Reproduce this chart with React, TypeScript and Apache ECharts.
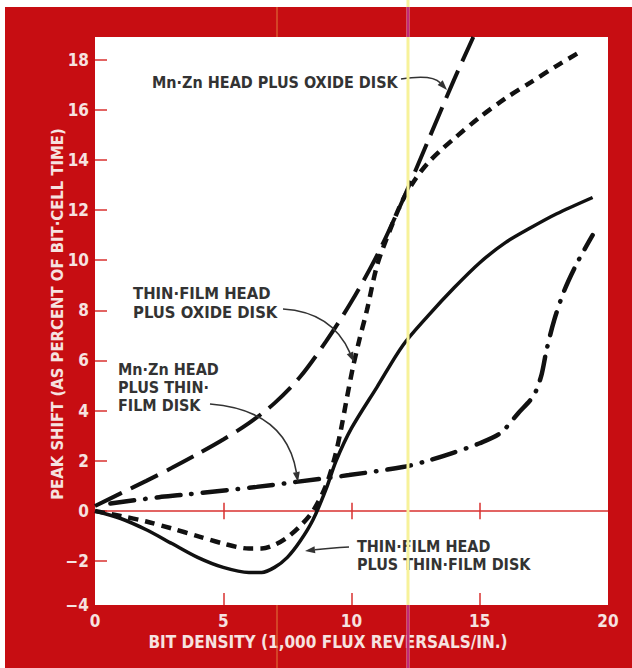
import { useEffect, useRef } from 'react';
import * as echarts from 'echarts';

// ---- axis data ----
const xTickLabels = [0, 5, 10, 15, 20];
const xInnerTicks = [5, 10, 15];
const yTickValues = [-2, 0, 2, 4, 6, 8, 10, 12, 14, 16, 18];
const Y_MIN = -3.75;
const Y_MAX = 18.9;

// ---- series data ----
// Mn-Zn head plus oxide disk (long dash)
const mnZnOxideX = [0, 1, 2, 3, 4, 5, 6, 7, 8, 9, 10, 11, 12, 13, 14, 14.75];
const mnZnOxideY = [0.2, 0.7, 1.2, 1.72, 2.27, 2.85, 3.5, 4.3, 5.35, 6.75, 8.35, 10.2, 12.4, 14.8, 17.2, 18.9];

// Thin-film head plus oxide disk (short dash)
const tfOxideX = [0, 1, 2, 3, 4, 5, 6, 6.5, 7, 7.5, 8, 8.5, 9, 9.35, 9.6, 9.8, 10.05, 10.3, 10.6, 11, 11.5, 12, 12.5, 13, 13.5, 14, 15, 16, 17, 18, 18.9];
const tfOxideY = [0, -0.2, -0.42, -0.7, -1.0, -1.3, -1.5, -1.5, -1.35, -1.05, -0.6, 0, 1.0, 2.15, 3.3, 4.4, 5.7, 6.8, 8.0, 9.8, 11.2, 12.4, 13.25, 13.9, 14.4, 14.85, 15.7, 16.45, 17.1, 17.75, 18.3];

// Thin-film head plus thin-film disk (solid)
const tfTfX = [0, 1, 2, 3, 4, 5, 6, 6.5, 7, 7.5, 8, 8.5, 9, 9.4, 10, 11, 12, 13, 14, 15, 16, 17, 18, 19.4];
const tfTfY = [0, -0.3, -0.75, -1.3, -1.85, -2.25, -2.45, -2.45, -2.25, -1.85, -1.2, -0.35, 0.85, 2.0, 3.3, 4.95, 6.6, 7.8, 8.9, 9.9, 10.7, 11.3, 11.85, 12.5];

// Mn-Zn head plus thin-film disk (dash-dot)
const mnZnTfX = [0.6, 2.5, 3.4, 6.3, 7.85, 9.9, 12, 12.8, 13.9, 15, 15.8, 16.5, 17.1, 17.4, 17.6, 17.9, 18.3, 18.8, 19.4];
const mnZnTfY = [0.3, 0.55, 0.64, 0.96, 1.16, 1.43, 1.75, 1.95, 2.3, 2.7, 3.1, 3.9, 4.6, 5.4, 6.4, 7.6, 8.8, 9.9, 11.0];

const zip = (xs: number[], ys: number[]) => xs.map((x, i) => [x, ys[i]]);

const FONT = '"Liberation Sans Narrow", "DejaVu Sans Condensed", "Roboto", sans-serif';
const RED = '#c70d12';
const AXIS_RED = '#d8302f';
const LIGHT = '#f6e2e0';
const INK = '#111111';
const NOTE = '#333333';

function arrow(x1: number, y1: number, cx: number, cy: number, x2: number, y2: number) {
  const dx = x2 - cx;
  const dy = y2 - cy;
  const len = Math.sqrt(dx * dx + dy * dy) || 1;
  const ux = dx / len;
  const uy = dy / len;
  const hl = 10;
  const hw = 3.5;
  const bx = x2 - ux * hl;
  const by = y2 - uy * hl;
  return [
    {
      type: 'bezierCurve',
      shape: { x1, y1, x2: bx, y2: by, cpx1: cx, cpy1: cy },
      style: { stroke: NOTE, lineWidth: 1.6, fill: 'none' },
      z: 20,
    },
    {
      type: 'polygon',
      shape: {
        points: [
          [x2, y2],
          [bx - uy * hw, by + ux * hw],
          [bx + uy * hw, by - ux * hw],
        ],
      },
      style: { fill: NOTE },
      z: 20,
    },
  ];
}

function note(x: number, y: number, lines: string[], lh = 18, size = 16) {
  return lines.map((t, i) => ({
    type: 'text',
    x,
    y: y + i * lh,
    z: 20,
    style: {
      text: t,
      fill: NOTE,
      font: `bold ${size}px ${FONT}`,
      align: 'left',
      verticalAlign: 'middle',
    },
  }));
}

export default function App() {
  const ref = useRef<HTMLDivElement>(null);

  useEffect(() => {
    const chart = echarts.init(ref.current!, null, { renderer: 'svg' });
    const lineBase = {
      type: 'line',
      showSymbol: false,
      symbol: 'none',
      smooth: 0.3,
      silent: true,
    };

    const option: any = {
      animation: false,
      backgroundColor: RED,
      grid: {
        left: 95,
        right: 24,
        top: 37,
        bottom: 63,
        show: true,
        backgroundColor: '#ffffff',
        borderWidth: 0,
      },
      xAxis: {
        type: 'value',
        min: 0,
        max: 20,
        interval: 5,
        axisLine: { show: false, onZero: false },
        splitLine: { show: false },
        axisTick: {
          show: true,
          inside: true,
          length: 12,
          customValues: xInnerTicks,
          lineStyle: { color: AXIS_RED, width: 1.5 },
        },
        axisLabel: {
          customValues: xTickLabels,
          color: LIGHT,
          fontFamily: FONT,
          fontWeight: 'bold',
          fontSize: 17,
          margin: 7,
        },
      },
      yAxis: {
        type: 'value',
        min: Y_MIN,
        max: Y_MAX,
        axisLine: { show: false },
        splitLine: { show: false },
        axisTick: {
          show: true,
          inside: true,
          length: 12,
          customValues: yTickValues,
          lineStyle: { color: AXIS_RED, width: 1.5 },
        },
        axisLabel: {
          customValues: [Y_MIN, ...yTickValues],
          color: LIGHT,
          fontFamily: FONT,
          fontWeight: 'bold',
          fontSize: 17,
          margin: 6,
          formatter: (v: number) => {
            const n = v < -3 ? -4 : Math.round(v);
            return n < 0 ? '\u2212' + Math.abs(n) : String(n);
          },
        },
      },
      series: [
        {
          ...lineBase,
          name: 'Mn-Zn head plus oxide disk',
          data: zip(mnZnOxideX, mnZnOxideY),
          lineStyle: { color: INK, width: 4, type: [30, 10], cap: 'butt' },
          z: 5,
          markLine: {
            silent: true,
            symbol: 'none',
            label: { show: false },
            animation: false,
            lineStyle: { color: AXIS_RED, width: 1.5, type: 'solid' },
            data: [
              [{ coord: [0, 0] }, { coord: [20, 0] }],
              ...xInnerTicks.map((t) => [{ coord: [t, -0.33] }, { coord: [t, 0.33] }]),
            ],
            z: 1,
          },
        },
        {
          ...lineBase,
          name: 'Thin-film head plus oxide disk',
          data: zip(tfOxideX, tfOxideY),
          lineStyle: { color: INK, width: 4.5, type: [10, 7], cap: 'butt' },
          z: 5,
        },
        {
          ...lineBase,
          name: 'Thin-film head plus thin-film disk',
          data: zip(tfTfX, tfTfY),
          lineStyle: { color: INK, width: 3.5, type: 'solid' },
          z: 5,
        },
        {
          ...lineBase,
          name: 'Mn-Zn head plus thin-film disk',
          data: zip(mnZnTfX, mnZnTfY),
          lineStyle: { color: INK, width: 4.5, type: [24, 11, 0.5, 11], cap: 'round' },
          z: 5,
        },
      ],
      graphic: [
        // white page margin above/left of the red frame
        { type: 'rect', shape: { x: 0, y: 0, width: 632, height: 7 }, style: { fill: '#ffffff' }, z: 0, silent: true },
        { type: 'rect', shape: { x: 0, y: 0, width: 5, height: 668 }, style: { fill: '#ffffff' }, z: 0, silent: true },
        // scan artifacts: thin vertical lines
        { type: 'line', shape: { x1: 408, y1: 0, x2: 408, y2: 668 }, style: { stroke: '#f7f29a', lineWidth: 3 }, z: 30, silent: true },
        { type: 'line', shape: { x1: 408, y1: 7, x2: 408, y2: 37 }, style: { stroke: '#c02a78', lineWidth: 3 }, z: 31, silent: true },
        { type: 'line', shape: { x1: 408, y1: 605, x2: 408, y2: 668 }, style: { stroke: '#c02a78', lineWidth: 3 }, z: 31, silent: true },
        { type: 'line', shape: { x1: 277, y1: 7, x2: 277, y2: 37 }, style: { stroke: '#e07a3a', lineWidth: 1 }, z: 31, silent: true },
        { type: 'line', shape: { x1: 277, y1: 605, x2: 277, y2: 668 }, style: { stroke: '#e07a3a', lineWidth: 1 }, z: 31, silent: true },
        // axis titles
        {
          type: 'text',
          x: 57,
          y: 314,
          rotation: Math.PI / 2,
          z: 20,
          style: {
            text: 'PEAK SHIFT (AS PERCENT OF BIT\u00B7CELL TIME)',
            fill: LIGHT,
            font: `bold 16.5px ${FONT}`,
            align: 'center',
            verticalAlign: 'middle',
          },
        },
        {
          type: 'text',
          x: 328,
          y: 642,
          z: 20,
          style: {
            text: 'BIT DENSITY (1,000 FLUX REVERSALS/IN.)',
            fill: LIGHT,
            font: `bold 17px ${FONT}`,
            align: 'center',
            verticalAlign: 'middle',
          },
        },
        // annotations
        ...note(152, 82, ['Mn\u00B7Zn HEAD PLUS OXIDE DISK']),
        ...arrow(401, 79, 432, 74, 447, 90),
        ...note(133, 293, ['THIN\u00B7FILM HEAD', 'PLUS OXIDE DISK'], 19, 16.5),
        ...arrow(283, 309, 332, 312, 354, 362),
        ...note(118, 369, ['Mn\u00B7Zn HEAD', 'PLUS THIN\u00B7', 'FILM DISK'], 18, 16),
        ...arrow(210, 404, 286, 410, 298, 482),
        ...note(357, 546, ['THIN\u00B7FILM HEAD', 'PLUS THIN\u00B7FILM DISK'], 18, 16),
        ...arrow(349, 547, 330, 548, 305, 551),
      ],
    };

    chart.setOption(option);
    return () => chart.dispose();
  }, []);

  return (
    <div
      ref={ref}
      style={{ position: 'absolute', left: 0, top: 0, width: 632, height: 668 }}
    />
  );
}
